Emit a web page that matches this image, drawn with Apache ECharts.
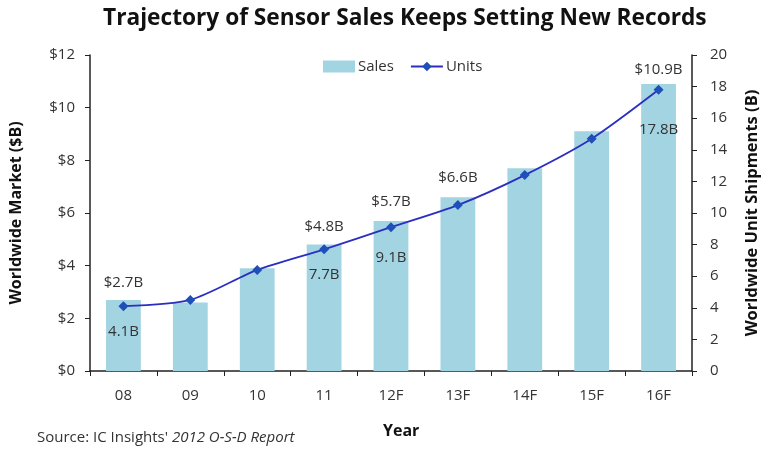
<!DOCTYPE html>
<html>
<head>
<meta charset="utf-8">
<script src="https://cdn.jsdelivr.net/npm/echarts@6/dist/echarts.min.js"></script>
<style>
html,body{margin:0;padding:0;background:#fff;}
#c{width:769px;height:449px;}
</style>
</head>
<body>
<div id="c"></div>
<script>
var years = ['08','09','10','11','12F','13F','14F','15F','16F'];
var sales = [2.7, 2.6, 3.9, 4.8, 5.7, 6.6, 7.7, 9.1, 10.9];
var units = [4.1, 4.5, 6.4, 7.7, 9.1, 10.5, 12.4, 14.7, 17.8];
var salesLabelShown = [true, false, false, true, true, true, false, false, true];
var unitsLabelShown = [true, false, false, true, true, false, false, false, true];
var leftTicks = ['$0','$2','$4','$6','$8','$10','$12'];

var FONT = '"Open Sans", "Liberation Sans", sans-serif';
var TXT = '#333';
var salesLabelGap = [10, 0, 0, 10, 12, 12, 0, 0, 7];
var unitsLabelGap = [13, 0, 0, 13, 18, 0, 0, 0, 27];

var chart = echarts.init(document.getElementById('c'), null, {renderer: 'canvas'});
chart.setOption({
  animation: false,
  textStyle: {fontFamily: FONT, color: TXT},
  title: {
    text: 'Trajectory of Sensor Sales Keeps Setting New Records',
    left: 98, top: 2,
    textStyle: {fontFamily: FONT, fontWeight: 'bold', fontSize: 22.7, color: '#111'}
  },
  legend: {
    top: 54, left: 318,
    itemGap: 16, itemWidth: 32, itemHeight: 12,
    textStyle: {fontFamily: FONT, fontSize: 15, color: TXT, padding: [0, 0, 0, -2]},
    data: [{name: 'Sales', icon: 'rect'}, {name: 'Units'}]
  },
  graphic: [{
    type: 'text', left: 37, top: 430,
    style: {
      text: "Source: IC Insights' {i|2012 O-S-D Report}",
      rich: {i: {fontStyle: 'italic', fontFamily: FONT, fontSize: 15, fill: TXT}},
      fontFamily: FONT, fontSize: 15, fill: TXT
    }
  }, {
    type: 'text', left: 383, top: 423,
    style: {text: 'Year', fontFamily: FONT, fontWeight: 'bold', fontSize: 16, fill: '#111'}
  }],
  grid: {left: 89, right: 67, top: 55, bottom: 78},
  xAxis: {
    type: 'category', data: years,
    axisLine: {lineStyle: {color: '#222', width: 1.5}},
    axisTick: {show: true, length: 5, lineStyle: {color: '#222'}},
    axisLabel: {fontFamily: FONT, fontSize: 15, color: TXT, margin: 17}
  },
  yAxis: [{
    type: 'value', min: 0, max: 12, interval: 2,
    name: 'Worldwide Market ($B)', nameLocation: 'middle', nameGap: 66, nameRotate: 90,
    nameTextStyle: {fontFamily: FONT, fontWeight: 'bold', fontSize: 16, color: '#111'},
    axisLine: {show: true, lineStyle: {color: '#222', width: 1.5}},
    axisTick: {show: true, length: 5, lineStyle: {color: '#222'}},
    splitLine: {show: false},
    axisLabel: {fontFamily: FONT, fontSize: 15, color: TXT, margin: 15,
      formatter: function (v) { return leftTicks[v / 2]; }}
  }, {
    type: 'value', min: 0, max: 20, interval: 2,
    name: 'Worldwide Unit Shipments (B)', nameLocation: 'middle', nameGap: 52, nameRotate: 90,
    nameTextStyle: {fontFamily: FONT, fontWeight: 'bold', fontSize: 16.5, color: '#111'},
    axisLine: {show: true, lineStyle: {color: '#222', width: 1.5}},
    axisTick: {show: true, length: 5, lineStyle: {color: '#222'}},
    splitLine: {show: false},
    axisLabel: {fontFamily: FONT, fontSize: 15, color: TXT, margin: 18}
  }],
  series: [{
    name: 'Sales', type: 'bar', yAxisIndex: 0, barWidth: '52%',
    itemStyle: {color: '#a3d4e2'},
    data: sales.map(function (v, i) {
      return {value: v, label: {show: salesLabelShown[i], distance: salesLabelGap[i]}};
    }),
    label: {position: 'top', fontFamily: FONT, fontSize: 15, color: TXT,
      formatter: function (p) { return '$' + p.value.toFixed(1) + 'B'; }}
  }, {
    name: 'Units', type: 'line', yAxisIndex: 1, smooth: 0.25,
    symbol: 'diamond', symbolSize: 10,
    lineStyle: {color: '#2a2fc0', width: 1.8},
    itemStyle: {color: '#1f4fb8'},
    data: units.map(function (v, i) {
      return {value: v, label: {show: unitsLabelShown[i], distance: unitsLabelGap[i]}};
    }),
    label: {position: 'bottom', fontFamily: FONT, fontSize: 15, color: TXT,
      formatter: function (p) { return p.value.toFixed(1) + 'B'; }}
  }]
});
</script>
</body>
</html>
